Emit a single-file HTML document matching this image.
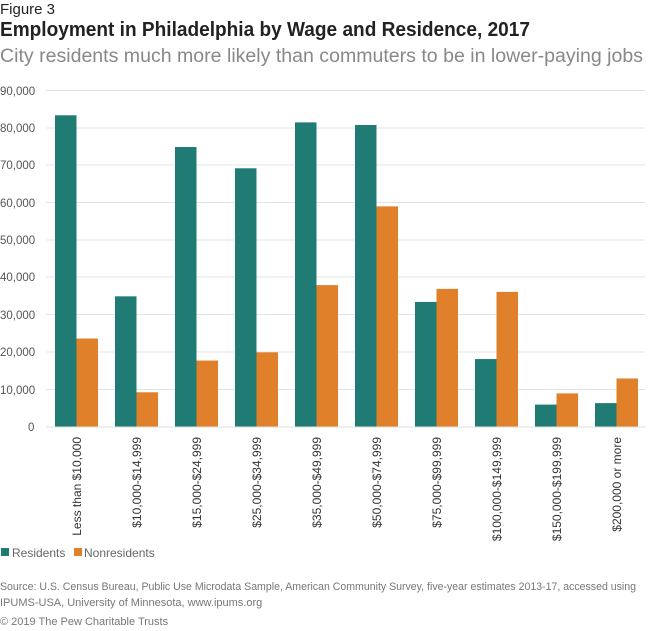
<!DOCTYPE html>
<html><head><meta charset="utf-8"><style>
body{margin:0;width:650px;height:626px;background:#fff;font-family:"Liberation Sans",sans-serif;overflow:hidden}
</style></head><body>
<svg width="650" height="626" xmlns="http://www.w3.org/2000/svg" font-family="Liberation Sans, sans-serif">
<text x="0" y="14" font-size="15" fill="#222">Figure 3</text>
<text x="0" y="36" font-size="20.5" font-weight="bold" fill="#222" textLength="530" lengthAdjust="spacingAndGlyphs">Employment in Philadelphia by Wage and Residence, 2017</text>
<text x="0" y="62" font-size="19" fill="#888" textLength="643" lengthAdjust="spacingAndGlyphs">City residents much more likely than commuters to be in lower-paying jobs</text>
<g stroke="#e3e3e3" stroke-width="1">
<line x1="46" x2="645" y1="90.5" y2="90.5"/><line x1="46" x2="645" y1="128" y2="128"/><line x1="46" x2="645" y1="165" y2="165"/><line x1="46" x2="645" y1="202.5" y2="202.5"/><line x1="46" x2="645" y1="240" y2="240"/><line x1="46" x2="645" y1="277" y2="277"/><line x1="46" x2="645" y1="314.5" y2="314.5"/><line x1="46" x2="645" y1="352" y2="352"/><line x1="46" x2="645" y1="389.5" y2="389.5"/>
</g>
<g font-size="11.5" fill="#555">
<text x="0" y="95">90,000</text><text x="0" y="132">80,000</text><text x="0" y="169">70,000</text><text x="0" y="207">60,000</text><text x="0" y="244">50,000</text><text x="0" y="281">40,000</text><text x="0" y="319">30,000</text><text x="0" y="356">20,000</text><text x="0" y="394">10,000</text><text x="28" y="431">0</text>
</g>
<g id="bars"></g>
<line x1="46" x2="645" y1="427" y2="427" stroke="#ddd"/>
<g id="labels" font-size="12" fill="#333"></g>
<rect x="1" y="548" width="8" height="8" fill="#1f7b74"/><text x="12" y="557" font-size="12" fill="#666">Residents</text>
<rect x="74" y="548" width="8" height="8" fill="#e0802a"/><text x="84" y="557" font-size="12" fill="#666">Nonresidents</text>
<text x="0" y="590" font-size="11" fill="#777" textLength="636" lengthAdjust="spacingAndGlyphs">Source: U.S. Census Bureau, Public Use Microdata Sample, American Community Survey, five-year estimates 2013-17, accessed using</text>
<text x="0" y="606" font-size="11" fill="#777">IPUMS-USA, University of Minnesota, www.ipums.org</text>
<text x="0" y="625" font-size="11" fill="#777">© 2019 The Pew Charitable Trusts</text>
<script>
var r=[83.5,35,75,69.3,81.6,80.9,33.5,18.2,6,6.4],n=[23.7,9.3,17.8,20,38,59.1,37,36.2,9,13];
var L=["Less than $10,000","$10,000-$14,999","$15,000-$24,999","$25,000-$34,999","$35,000-$49,999","$50,000-$74,999","$75,000-$99,999","$100,000-$149,999","$150,000-$199,999","$200,000 or more"];
var b=document.getElementById("bars"),l=document.getElementById("labels"),ns="http://www.w3.org/2000/svg";
for(var i=0;i<10;i++){var x=55+60*i;
[[r[i],x,"#1f7b74"],[n[i],x+21.5,"#e0802a"]].forEach(function(d){var h=d[0]*3.733;var e=document.createElementNS(ns,"rect");e.setAttribute("x",d[1]);e.setAttribute("y",427-h);e.setAttribute("width",21.5);e.setAttribute("height",h);e.setAttribute("fill",d[2]);b.appendChild(e);});
var t=document.createElementNS(ns,"text");t.setAttribute("transform","translate("+(x+26)+",437) rotate(-90)");t.setAttribute("text-anchor","end");t.textContent=L[i];l.appendChild(t);}
</script>
</svg>
</body></html>
